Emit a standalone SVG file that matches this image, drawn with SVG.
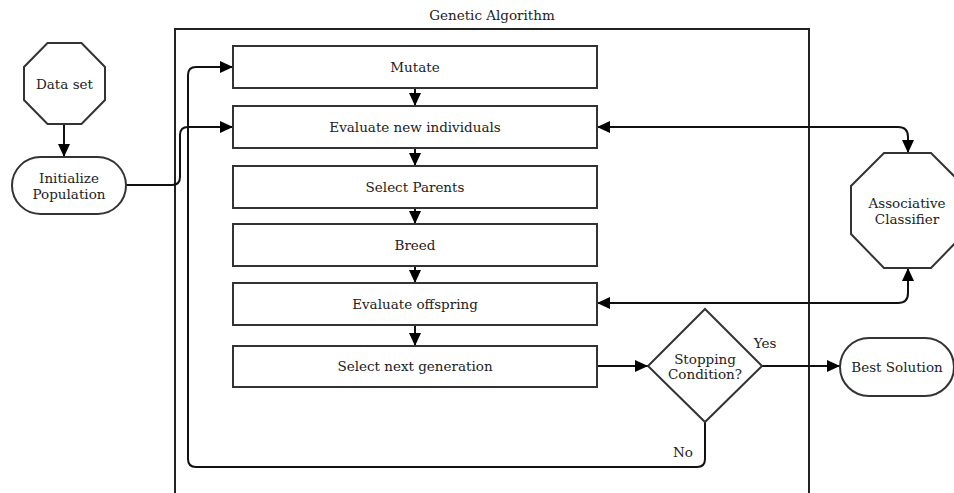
<svg xmlns="http://www.w3.org/2000/svg" width="954" height="493" viewBox="0 0 954 493">
<defs>
<style>
.shape{fill:#fff;stroke:#333;stroke-width:2}
.edge{fill:none;stroke:#111;stroke-width:2}
text{font-family:"DejaVu Serif","Liberation Serif",serif;font-size:13.5px;fill:#222;text-anchor:middle;dominant-baseline:central}
</style>
<marker id="ah" viewBox="0 0 13 12" refX="13" refY="6" markerWidth="13" markerHeight="12" markerUnits="userSpaceOnUse" orient="auto-start-reverse">
<path d="M0,0 L13,6 L0,12 Z" fill="#000"/>
</marker>
</defs>
<rect width="954" height="493" fill="#fff"/>
<g id="cluster">
<path d="M175,493 L175,29 L809,29 L809,493" fill="none" stroke="#222" stroke-width="2"/>
<text x="492" y="15">Genetic Algorithm</text>
</g>
<g id="connectors">
<path class="edge" d="M64,124 L64,157" marker-end="url(#ah)"/>
<path class="edge" d="M126,185 L172,185 Q180,185 180,177 L180,135 Q180,127 188,127 L233,127" marker-end="url(#ah)"/>
<path class="edge" d="M415,88 L415,106" marker-end="url(#ah)"/>
<path class="edge" d="M415,148 L415,166" marker-end="url(#ah)"/>
<path class="edge" d="M415,208 L415,224" marker-end="url(#ah)"/>
<path class="edge" d="M415,266 L415,283" marker-end="url(#ah)"/>
<path class="edge" d="M415,325 L415,346" marker-end="url(#ah)"/>
<path class="edge" d="M597,366 L648,366" marker-end="url(#ah)"/>
<path class="edge" d="M762,366 L840,366" marker-end="url(#ah)"/>
<path class="edge" d="M705,422 L705,459 Q705,467 697,467 L196,467 Q188,467 188,459 L188,75 Q188,67 196,67 L233,67" marker-end="url(#ah)"/>
<path class="edge" d="M597,127 L898,127 Q908,127 908,137 L908,153" marker-start="url(#ah)" marker-end="url(#ah)"/>
<path class="edge" d="M597,303 L898,303 Q908,303 908,293 L908,268" marker-start="url(#ah)" marker-end="url(#ah)"/>
<text x="765" y="343">Yes</text>
<text x="683" y="452">No</text>
</g>
<g id="dataset">
<polygon class="shape" points="47.5,43 81.5,43 105,67 105,100 81.5,124 47.5,124 24,100 24,67"/>
<text x="64.5" y="84">Data set</text>
</g>
<g id="init">
<rect class="shape" x="12" y="157" width="114" height="57" rx="28.5"/>
<text x="69" y="178">Initialize</text>
<text x="69" y="194">Population</text>
</g>
<g id="mutate">
<rect class="shape" x="233" y="46" width="364" height="42"/>
<text x="415" y="67">Mutate</text>
</g>
<g id="evalnew">
<rect class="shape" x="233" y="106" width="364" height="42"/>
<text x="415" y="127">Evaluate new individuals</text>
</g>
<g id="selectparents">
<rect class="shape" x="233" y="166" width="364" height="42"/>
<text x="415" y="187">Select Parents</text>
</g>
<g id="breed">
<rect class="shape" x="233" y="224" width="364" height="42"/>
<text x="415" y="245">Breed</text>
</g>
<g id="evaloff">
<rect class="shape" x="233" y="283" width="364" height="42"/>
<text x="415" y="304">Evaluate offspring</text>
</g>
<g id="selectnext">
<rect class="shape" x="233" y="346" width="364" height="41"/>
<text x="415" y="366">Select next generation</text>
</g>
<g id="stopping">
<polygon class="shape" points="705,309 762,366 705,422 648,366"/>
<text x="705" y="359">Stopping</text>
<text x="705" y="374">Condition?</text>
</g>
<g id="best">
<rect class="shape" x="840" y="338" width="114" height="58" rx="29"/>
<text x="897" y="367">Best Solution</text>
</g>
<g id="classifier">
<polygon class="shape" points="884,153 931,153 964,186 964,234 931,268 884,268 851,234 851,186"/>
<text x="907" y="203">Associative</text>
<text x="907" y="219">Classifier</text>
</g>
</svg>
